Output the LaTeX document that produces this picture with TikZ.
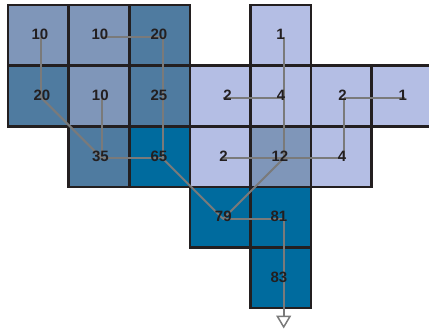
\documentclass[tikz,border=0pt]{standalone}
\usepackage{fontspec}
\setmainfont{Liberation Sans}
\usetikzlibrary{arrows.meta}
\definecolor{clight}{HTML}{B4BEE4}
\definecolor{cmed}{HTML}{7F96B9}
\definecolor{cdark}{HTML}{4F7BA0}
\definecolor{cdeep}{HTML}{006B9E}
\definecolor{ink}{HTML}{231F20}
\definecolor{flow}{HTML}{7A7A7A}
\begin{document}
\begin{tikzpicture}[x=1pt,y=1pt,
  cell/.style={rectangle, draw=ink, line width=2.6pt, minimum size=60.6pt, inner sep=0pt, outer sep=0pt},
  num/.style={font=\bfseries\fontsize{15}{15}\selectfont, text=ink, inner sep=0pt},
  flowline/.style={draw=flow, line width=2pt},
  tipend/.style={-{Triangle[length=13pt, width=15pt, fill=white, line width=1.5pt]}}
]
\useasboundingbox (0,0) rectangle (429,-330);
\clip (0,0) rectangle (429,-330);
% cells
\node[cell, fill=cmed]   (c00) at (38.3,-35.3) {};
\node[cell, fill=cmed]   (c01) at (98.9,-35.3) {};
\node[cell, fill=cdark]  (c02) at (159.5,-35.3) {};
\node[cell, fill=clight] (c04) at (280.7,-35.3) {};
\node[cell, fill=cdark]  (c10) at (38.3,-95.9) {};
\node[cell, fill=cmed]   (c11) at (98.9,-95.9) {};
\node[cell, fill=cdark]  (c12) at (159.5,-95.9) {};
\node[cell, fill=clight] (c13) at (220.1,-95.9) {};
\node[cell, fill=clight] (c14) at (280.7,-95.9) {};
\node[cell, fill=clight] (c15) at (341.3,-95.9) {};
\node[cell, fill=clight] (c16) at (401.9,-95.9) {};
\node[cell, fill=cdark]  (c21) at (98.9,-156.5) {};
\node[cell, fill=cdeep]  (c22) at (159.5,-156.5) {};
\node[cell, fill=clight] (c23) at (220.1,-156.5) {};
\node[cell, fill=cmed]   (c24) at (280.7,-156.5) {};
\node[cell, fill=clight] (c25) at (341.3,-156.5) {};
\node[cell, fill=cdeep]  (c33) at (220.1,-217.1) {};
\node[cell, fill=cdeep]  (c34) at (280.7,-217.1) {};
\node[cell, fill=cdeep]  (c44) at (280.7,-277.7) {};
% flow anchor points
\foreach \n in {00,01,02,04,10,11,12,13,14,15,16,21,22,23,24,25,33,34,44}
  \coordinate (p\n) at ([shift={(3,-1.8)}]c\n.center);
\coordinate (outlet) at ([yshift=-49pt]p44);
% connectors
\draw[flowline] (p00) -- (p10);
\draw[flowline] (p01) -- (p02);
\draw[flowline] (p02) -- (p12) -- (p22);
\draw[flowline] (p10) -- (p21);
\draw[flowline] (p11) -- (p21);
\draw[flowline] (p21) -- (p22);
\draw[flowline] (p22) -- (p33);
\draw[flowline] (p04) -- (p14) -- (p24);
\draw[flowline] (p13) -- (p14);
\draw[flowline] (p16) -- (p15);
\draw[flowline] (p15) -- (p25);
\draw[flowline] (p23) -- (p24);
\draw[flowline] (p25) -- (p24);
\draw[flowline] (p24) -- (p33);
\draw[flowline] (p33) -- (p34);
\draw[flowline, tipend] (p34) -- (p44) -- (outlet);
% numbers
\node[num] (t00) at (40,-34.5) {10};
\node[num] (t01) at (100,-34.5) {10};
\node[num] (t02) at (159,-34.5) {20};
\node[num] (t04) at (280.5,-34.5) {1};
\node[num] (t10) at (42,-95) {20};
\node[num] (t11) at (100.3,-95) {10};
\node[num] (t12) at (159,-95) {25};
\node[num] (t13) at (227.5,-95) {2};
\node[num] (t14) at (281,-95) {4};
\node[num] (t15) at (342.5,-95) {2};
\node[num] (t16) at (402.7,-95) {1};
\node[num] (t21) at (100.5,-156) {35};
\node[num] (t22) at (159,-156) {65};
\node[num] (t23) at (223.5,-156) {2};
\node[num] (t24) at (280,-156) {12};
\node[num] (t25) at (342,-156) {4};
\node[num] (t33) at (223.3,-216.3) {79};
\node[num] (t34) at (279,-216.3) {81};
\node[num] (t44) at (279,-277.5) {83};
\end{tikzpicture}
\end{document}
